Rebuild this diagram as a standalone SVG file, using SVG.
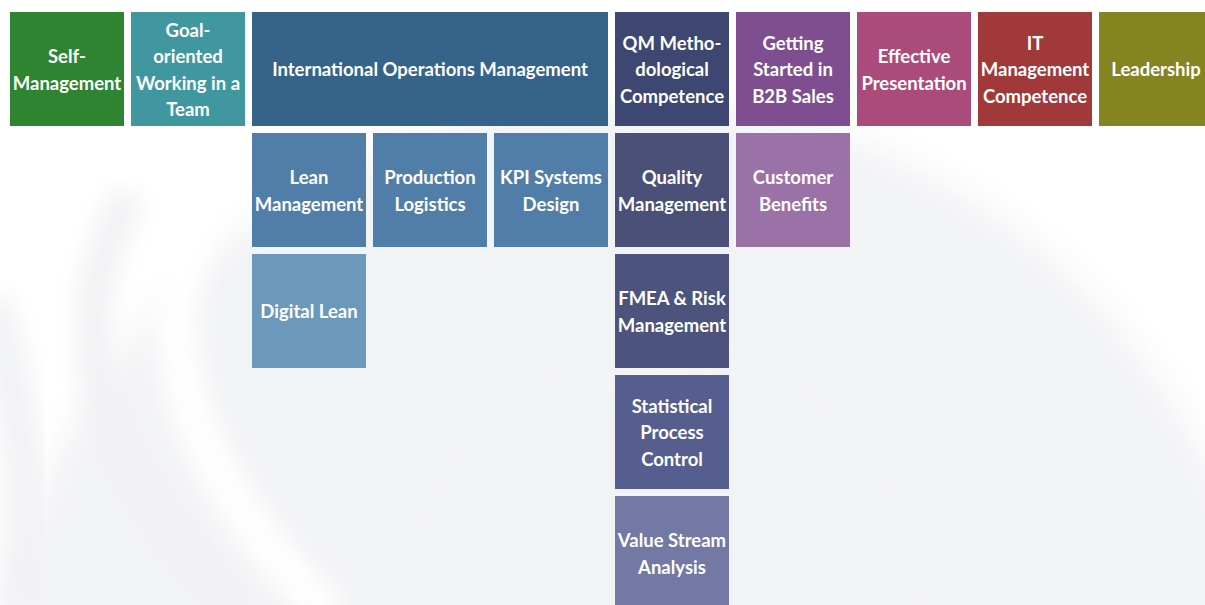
<svg xmlns="http://www.w3.org/2000/svg" width="1205" height="605" viewBox="0 0 1205 605">
<defs>
<style>
.t{font-family:Lato,"Noto Sans","Liberation Sans",sans-serif;font-weight:700;font-size:18.5px;fill:#ffffff;text-anchor:middle}
</style>
<filter id="blur40" x="-50%" y="-50%" width="200%" height="200%"><feGaussianBlur stdDeviation="18"/></filter>
<filter id="blur15" x="-50%" y="-50%" width="200%" height="200%"><feGaussianBlur stdDeviation="12"/></filter>
</defs>
<g id="background">
<rect x="0" y="0" width="1205" height="605" fill="#ffffff"/>
<circle cx="630" cy="740" r="640" fill="#f2f3f5" filter="url(#blur40)"/>
<path d="M130 195 Q20 390 240 610" fill="none" stroke="#f0f1f3" stroke-width="34" filter="url(#blur15)"/>
<path d="M-10 300 Q40 460 20 610" fill="none" stroke="#f1f2f4" stroke-width="40" filter="url(#blur15)"/>
<path d="M215 175 Q100 390 330 615" fill="none" stroke="#ffffff" stroke-width="40" filter="url(#blur15)"/>
<circle cx="660" cy="600" r="230" fill="#f1f4f6" filter="url(#blur40)" opacity="0.7"/>
</g>
<g id="n-self"><rect x="10" y="12" width="114" height="114" fill="#2e8431"/><text class="t" x="67"><tspan x="67" y="63">Self-</tspan><tspan x="67" y="89.7">Management</tspan></text></g>
<g id="n-goal"><rect x="131" y="12" width="114" height="114" fill="#4097a0"/><text class="t"><tspan x="188" y="36.5">Goal-</tspan><tspan x="188" y="63">oriented</tspan><tspan x="188" y="89.7">Working in a</tspan><tspan x="188" y="116.3">Team</tspan></text></g>
<g id="n-iom"><rect x="252" y="12" width="356" height="114" fill="#35638a"/><text class="t" x="430" y="76">International Operations Management</text></g>
<g id="n-qm"><rect x="615" y="12" width="114" height="114" fill="#3e4672"/><text class="t"><tspan x="672" y="49.6">QM Metho-</tspan><tspan x="672" y="76.3">dological</tspan><tspan x="672" y="103">Competence</tspan></text></g>
<g id="n-b2b"><rect x="736" y="12" width="114" height="114" fill="#7e4e91"/><text class="t"><tspan x="793" y="49.6">Getting</tspan><tspan x="793" y="76.3">Started in</tspan><tspan x="793" y="103">B2B Sales</tspan></text></g>
<g id="n-pres"><rect x="857" y="12" width="114" height="114" fill="#ab4b7b"/><text class="t"><tspan x="914" y="63">Effective</tspan><tspan x="914" y="89.7">Presentation</tspan></text></g>
<g id="n-it"><rect x="978" y="12" width="114" height="114" fill="#a1393b"/><text class="t"><tspan x="1035" y="49.6">IT</tspan><tspan x="1035" y="76.3">Management</tspan><tspan x="1035" y="103">Competence</tspan></text></g>
<g id="n-lead"><rect x="1099" y="12" width="114" height="114" fill="#848420"/><text class="t" x="1156" y="76">Leadership</text></g>
<g id="n-lean"><rect x="252" y="133" width="114" height="114" fill="#517ea8"/><text class="t"><tspan x="309" y="184">Lean</tspan><tspan x="309" y="210.7">Management</tspan></text></g>
<g id="n-prod"><rect x="373" y="133" width="114" height="114" fill="#517ea8"/><text class="t"><tspan x="430" y="184">Production</tspan><tspan x="430" y="210.7">Logistics</tspan></text></g>
<g id="n-kpi"><rect x="494" y="133" width="114" height="114" fill="#517ea8"/><text class="t"><tspan x="551" y="184">KPI Systems</tspan><tspan x="551" y="210.7">Design</tspan></text></g>
<g id="n-quality"><rect x="615" y="133" width="114" height="114" fill="#4a5078"/><text class="t"><tspan x="672" y="184">Quality</tspan><tspan x="672" y="210.7">Management</tspan></text></g>
<g id="n-cust"><rect x="736" y="133" width="114" height="114" fill="#9b72a8"/><text class="t"><tspan x="793" y="184">Customer</tspan><tspan x="793" y="210.7">Benefits</tspan></text></g>
<g id="n-digital"><rect x="252" y="254" width="114" height="114" fill="#6c98bb"/><text class="t" x="309" y="318">Digital Lean</text></g>
<g id="n-fmea"><rect x="615" y="254" width="114" height="114" fill="#4c537c"/><text class="t"><tspan x="672" y="305">FMEA &amp; Risk</tspan><tspan x="672" y="331.7">Management</tspan></text></g>
<g id="n-spc"><rect x="615" y="375" width="114" height="114" fill="#565d8f"/><text class="t"><tspan x="672" y="412.6">Statistical</tspan><tspan x="672" y="439.3">Process</tspan><tspan x="672" y="466">Control</tspan></text></g>
<g id="n-vsa"><rect x="615" y="496" width="114" height="114" fill="#7378a4"/><text class="t"><tspan x="672" y="547">Value Stream</tspan><tspan x="672" y="573.7">Analysis</tspan></text></g>
</svg>
